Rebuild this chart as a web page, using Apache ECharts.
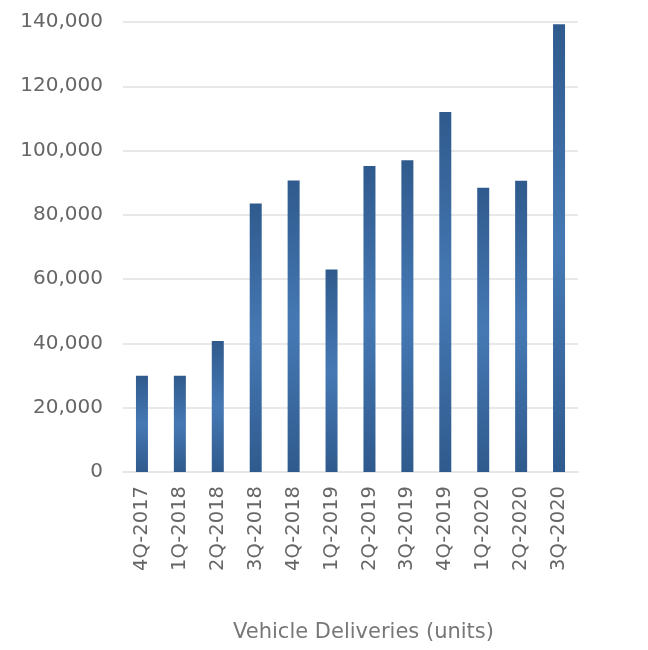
<!DOCTYPE html>
<html>
<head>
<meta charset="utf-8">
<script src="https://cdn.jsdelivr.net/npm/echarts@6/dist/echarts.min.js"></script>
<style>html,body{margin:0;padding:0;background:#fff}#c{width:648px;height:650px}</style>
</head>
<body>
<div id="c"></div>
<script>
var categories = ['4Q-2017','1Q-2018','2Q-2018','3Q-2018','4Q-2018','1Q-2019','2Q-2019','3Q-2019','4Q-2019','1Q-2020','2Q-2020','3Q-2020'];
var deliveries = [29967, 29980, 40740, 83500, 90700, 63000, 95200, 97000, 112000, 88400, 90650, 139300];
var yTicks = {min: 0, max: 140000, interval: 20000};
var axisTitle = 'Vehicle Deliveries (units)';

var chart = echarts.init(document.getElementById('c'), null, {renderer: 'canvas'});
var font = 'DejaVu Sans';
chart.setOption({
  animation: false,
  grid: {left: 123, right: 70, top: 22, bottom: 178},
  xAxis: {
    type: 'category',
    data: categories,
    name: axisTitle,
    nameLocation: 'middle',
    nameGap: 150,
    nameTextStyle: {color: '#777', fontSize: 21, fontFamily: font, padding: [0, 0, 0, 26]},
    axisLine: {lineStyle: {color: '#e6e6e6', width: 2}},
    axisTick: {show: false},
    axisLabel: {rotate: 90, margin: 14, color: '#666', fontSize: 19.5, fontFamily: font}
  },
  yAxis: {
    type: 'value',
    min: yTicks.min, max: yTicks.max, interval: yTicks.interval,
    axisLine: {show: false},
    axisTick: {show: false},
    splitLine: {lineStyle: {color: '#e8e8e8', width: 2}},
    axisLabel: {margin: 20, color: '#666', fontSize: 20, fontFamily: font,
      formatter: function(v){ return v.toLocaleString('en-US'); }}
  },
  series: [{
    type: 'bar',
    data: deliveries,
    barWidth: 12,
    itemStyle: {
      color: new echarts.graphic.LinearGradient(0,0,0,1,[
        {offset: 0, color: '#2f5a8d'},
        {offset: 0.5, color: '#4679b4'},
        {offset: 1, color: '#2f5a8d'}
      ])
    }
  }]
});
</script>
</body>
</html>
